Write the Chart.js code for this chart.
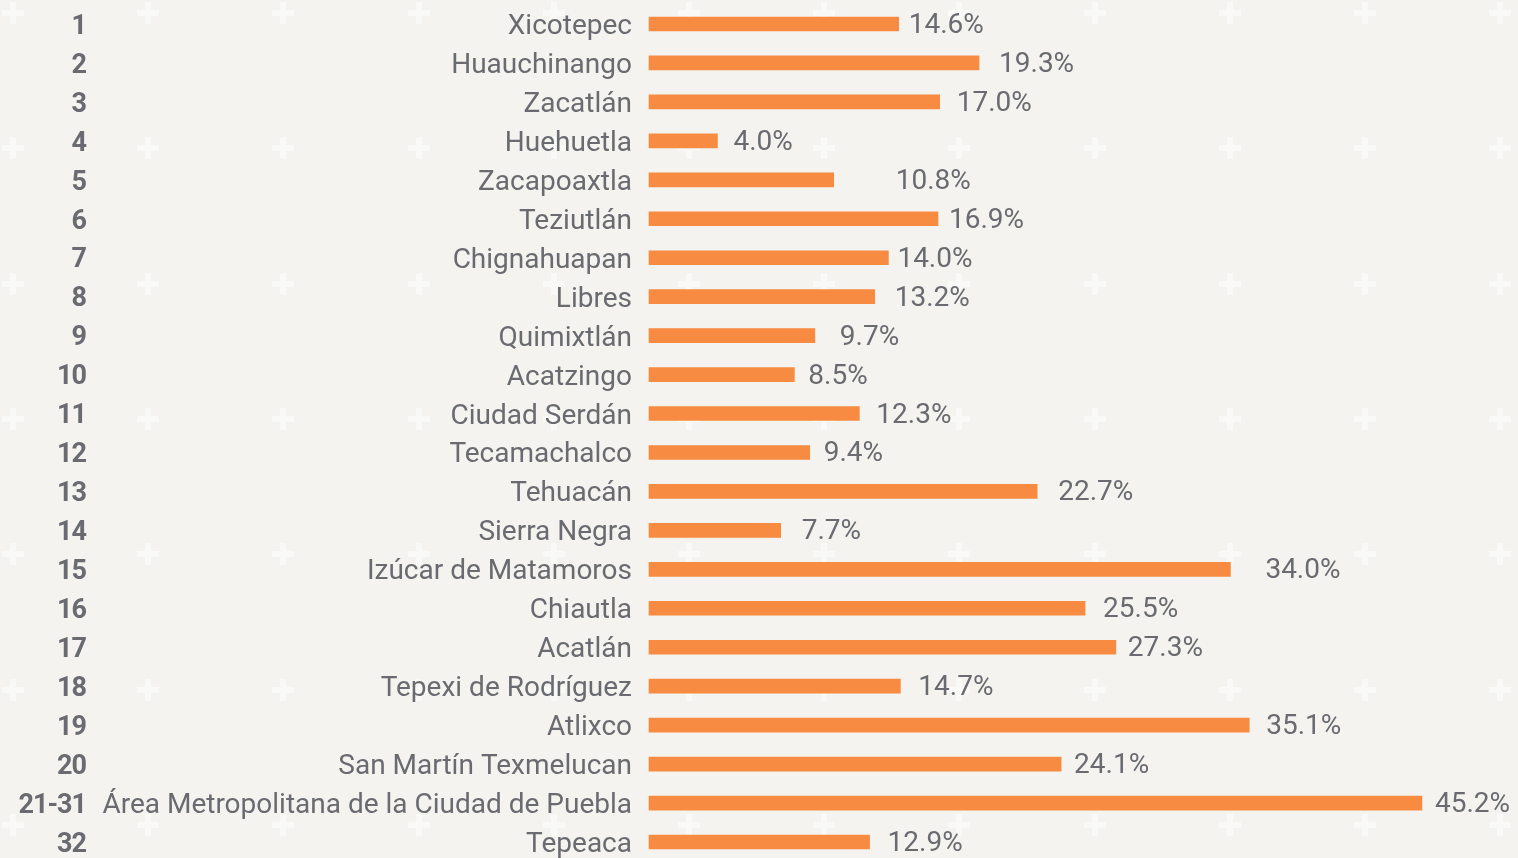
<!DOCTYPE html>
<html lang="es">
<head>
<meta charset="utf-8">
<title>Regiones de Puebla</title>
<script src="https://cdn.jsdelivr.net/npm/chart.js@4.4.1/dist/chart.umd.min.js"></script>
<style>
  html, body { margin: 0; padding: 0; background: #f4f3ef; overflow: hidden; }
  #wrap { width: 1518px; height: 858px; position: relative; }
</style>
</head>
<body>
<div id="wrap"><canvas id="regionChart"></canvas></div>
<script>
const ranks = ['1', '2', '3', '4', '5', '6', '7', '8', '9', '10', '11',
  '12', '13', '14', '15', '16', '17', '18', '19', '20', '21-31', '32'];

const regions = ['Xicotepec', 'Huauchinango', 'Zacatlán', 'Huehuetla', 'Zacapoaxtla',
  'Teziutlán', 'Chignahuapan', 'Libres', 'Quimixtlán', 'Acatzingo', 'Ciudad Serdán',
  'Tecamachalco', 'Tehuacán', 'Sierra Negra', 'Izúcar de Matamoros', 'Chiautla',
  'Acatlán', 'Tepexi de Rodríguez', 'Atlixco', 'San Martín Texmelucan',
  'Área Metropolitana de la Ciudad de Puebla', 'Tepeaca'];

const shares = [14.6, 19.3, 17.0, 4.0, 10.8, 16.9, 14.0, 13.2, 9.7, 8.5, 12.3,
  9.4, 22.7, 7.7, 34.0, 25.5, 27.3, 14.7, 35.1, 24.1, 45.2, 12.9];

// gap in px between the end of each bar and its percentage label
const labelGap = [10, 20, 17, 16, 62, 11, 9, 20, 25, 14, 17,
  14, 21, 21, 35, 18, 12, 18, 17, 13, 13, 18];

const textColor = '#696b70';
const barColor = '#f68b41';

// paper background with the faint white crosses
const backdrop = {
  id: 'backdrop',
  beforeDraw(chart) {
    const { ctx, width, height } = chart;
    ctx.save();
    ctx.fillStyle = '#f4f3ef';
    ctx.fillRect(0, 0, width, height);
    ctx.fillStyle = '#f9f9f7';
    for (let x = 13; x < width + 12; x += 135.2) {
      for (let y = 13; y < height + 12; y += 135.3) {
        ctx.fillRect(Math.round(x) - 11, Math.round(y) - 3, 22, 6);
        ctx.fillRect(Math.round(x) - 3, Math.round(y) - 11, 6, 22);
      }
    }
    ctx.restore();
  }
};

// rank numbers on the far left + value labels after the bars
const annotations = {
  id: 'annotations',
  afterDatasetsDraw(chart) {
    const { ctx } = chart;
    const yScale = chart.scales.y;
    ctx.save();
    ctx.fillStyle = textColor;
    ctx.textBaseline = 'middle';

    ctx.font = 'bold 27px Roboto';
    ctx.letterSpacing = '-1px';
    ctx.textAlign = 'right';
    ranks.forEach((r, i) => {
      ctx.fillText(r, 86, yScale.getPixelForTick(i) + 3);
    });

    ctx.font = '28px Roboto';
    ctx.letterSpacing = '0px';
    ctx.textAlign = 'left';
    chart.getDatasetMeta(0).data.forEach((bar, i) => {
      ctx.fillText(shares[i].toFixed(1) + '%', bar.x + labelGap[i], bar.y + 2);
    });
    ctx.restore();
  }
};

const ctx = document.getElementById('regionChart').getContext('2d');
new Chart(ctx, {
  type: 'bar',
  data: {
    labels: regions,
    datasets: [{
      data: shares,
      backgroundColor: barColor,
      barThickness: 14,
      clip: false
    }]
  },
  options: {
    indexAxis: 'y',
    responsive: true,
    maintainAspectRatio: false,
    devicePixelRatio: 1,
    animation: false,
    layout: { padding: { top: 24, bottom: 16, right: 14, left: 0 } },
    plugins: {
      legend: { display: false },
      tooltip: { enabled: false }
    },
    scales: {
      x: { display: false, min: 0, max: 50 },
      y: {
        offset: false,
        border: { display: false },
        grid: { display: false, drawTicks: false },
        afterFit: scale => {
          scale.width = 649;
          // let the first/last rows sit right on the padding edges
          scale.paddingTop = 0;
          scale.paddingBottom = 0;
        },
        ticks: {
          autoSkip: false,
          padding: 17,
          labelOffset: 3,
          color: textColor,
          font: { family: 'Roboto', size: 28 }
        }
      }
    }
  },
  plugins: [backdrop, annotations]
});
</script>
</body>
</html>
